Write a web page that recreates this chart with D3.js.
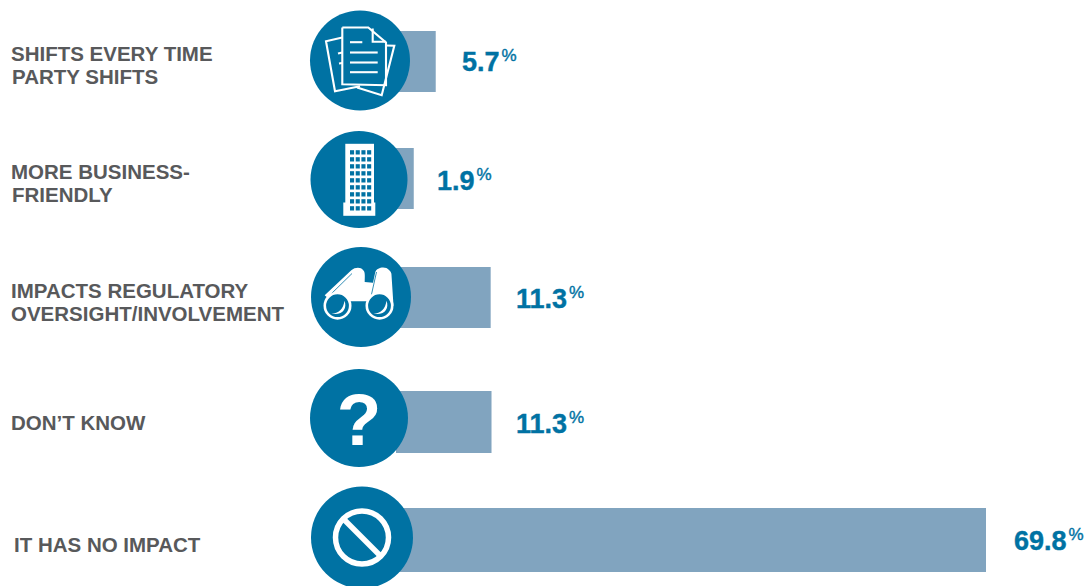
<!DOCTYPE html>
<html>
<head>
<meta charset="utf-8">
<script src="https://cdn.jsdelivr.net/npm/d3@7"></script>
<style>
  html, body { margin: 0; padding: 0; background: #fff; overflow: hidden; }
  text { font-family: "Liberation Sans", Arial, sans-serif; font-weight: bold; }
</style>
</head>
<body>
<svg id="chart" width="1089" height="586"></svg>
<script>

const categories = ["shifts", "business", "oversight", "unknown", "noImpact"];
const categoryLines = [
  ["SHIFTS EVERY TIME", "PARTY SHIFTS"],
  ["MORE BUSINESS-", "FRIENDLY"],
  ["IMPACTS REGULATORY", "OVERSIGHT/INVOLVEMENT"],
  ["DON\u2019T KNOW"],
  ["IT HAS NO IMPACT"]
];
const valueLabels = [5.7, 1.9, 11.3, 11.3, 69.8];
// the bars in the picture aren't quite in proportion to the printed figures,
// so these are read off the bar lengths
const barValues = [4.7, 2.1, 11.2, 11.3, 69.8];

const blue = "#0072a3";
const barBlue = "#81a4bf";
const grey = "#58595b";

const svg = d3.select("#chart");

// rows are not evenly spaced in the original, so ordinal scales hold the measured spots
const xScale = d3.scaleLinear().domain([0, 69.8]).range([396, 986]);
const barY = d3.scaleOrdinal().domain(categories).range([31, 148, 267, 391, 508]);
const barH = d3.scaleOrdinal().domain(categories).range([61, 61, 61, 62, 64]);
const circleX = d3.scaleOrdinal().domain(categories).range([360, 359, 361, 359, 362]);
const circleY = d3.scaleOrdinal().domain(categories).range([60.5, 179.5, 297, 418, 537.5]);
const circleR = d3.scaleOrdinal().domain(categories).range([50, 48.5, 50, 49, 51]);
const labelX = d3.scaleOrdinal().domain(categories).range([11, 11, 11, 11, 14]);
const labelY = d3.scaleOrdinal().domain(categories).range([61, 179, 298, 430, 552]);
const valueX = d3.scaleOrdinal().domain(categories).range([462, 437, 516, 516, 1014]);
const valueY = d3.scaleOrdinal().domain(categories).range([71, 190, 308, 433, 550]);

const rows = svg.selectAll("g.row")
  .data(categories)
  .join("g")
    .attr("class", "row");

rows.append("rect")
    .attr("x", xScale(0))
    .attr("y", d => barY(d))
    .attr("width", (d, i) => xScale(barValues[i]) - xScale(0))
    .attr("height", d => barH(d))
    .attr("fill", barBlue);

rows.append("circle")
    .attr("cx", d => circleX(d))
    .attr("cy", d => circleY(d))
    .attr("r", d => circleR(d))
    .attr("fill", blue);

// category labels
rows.each(function (d, i) {
  const lines = categoryLines[i];
  const text = d3.select(this).append("text")
      .attr("fill", grey)
      .attr("font-size", 20.5);
  lines.forEach((line, k) => {
    text.append("tspan")
        .attr("x", labelX(d) + (k === 1 && i < 2 ? 1 : 0))
        .attr("y", labelY(d) + k * 23)
        .text(line);
  });
});

// value labels with the small raised % sign
const valueText = rows.append("text")
    .attr("x", d => valueX(d))
    .attr("y", d => valueY(d))
    .attr("fill", blue)
    .attr("stroke", blue)
    .attr("stroke-width", 0.4)
    .attr("font-size", 27);
valueText.append("tspan").text((d, i) => valueLabels[i].toFixed(1));
valueText.append("tspan")
    .attr("font-size", 17)
    .attr("font-weight", "normal")
    .attr("dx", 2)
    .attr("dy", -10)
    .text("%");

const icon = name => svg.append("g")
  .attr("transform", `translate(${circleX(name)},${circleY(name)})`);

const line = d3.line();

// documents
const docs = icon("shifts")
  .attr("fill", "none")
  .attr("stroke", "#fff")
  .attr("stroke-width", 2.1);
[
  [[-17.7, -23], [-34, -19.3], [-25, 30.7], [0, 25.7]],
  [[26, -15], [34.3, -14.7], [21.7, 34.7], [-3, 27]],
  [[-22, -7], [-17.7, -8]],
  [[-21, 3], [-17.7, 2.5]],
  [[-17.7, -33], [8.3, -33], [26, -18], [26, 24.7], [-17.7, 23.7], [-17.7, -33]],
  [[12.7, -32], [12.7, -18.7], [26, -18.7]],
  [[-10, -18.3], [2.3, -18.3]],
  [[-10, -8], [17.7, -8]],
  [[-10, 2], [17.7, 2]],
  [[-10, 11.7], [17.7, 11.7]]
].forEach(p => docs.append("path").attr("d", line(p)));

// office building
const building = icon("business");
building.append("rect").attr("x", -13.7).attr("y", -35.7).attr("width", 28.7).attr("height", 60).attr("fill", "#fff");
building.append("rect").attr("x", -15.7).attr("y", 23).attr("width", 32).attr("height", 13.3).attr("fill", "#fff");
d3.range(9).forEach(r => d3.range(4).forEach(c => {
  building.append("rect")
      .attr("x", -9 + c * 5.7)
      .attr("y", -29.3 + r * 7)
      .attr("width", 4.1)
      .attr("height", 4.3)
      .attr("fill", blue);
}));

// binoculars
const bino = icon("oversight");
bino.append("path")
    .attr("d", "M-36.3,-1.7 L-9.7,-26.7 C-6,-30 0,-30 2,-27 C4,-25 4,-23 3.7,-15 L12,-14.3 L14.3,-25 C16,-30 25,-31 28,-27 C30,-25 30.5,-24 30.5,-22 L32.5,8.7 L18,9 L6,4.3 L-10,4.3 L-24,9 Z")
    .attr("fill", "#fff");
bino.append("path")
    .attr("d", "M-33,0 L-9,-23.5 M10.3,-1.7 L15.5,-25")
    .attr("stroke", blue)
    .attr("stroke-width", 0.8)
    .attr("fill", "none");
[-23.5, 18.5].forEach(x => {
  bino.append("circle")
      .attr("cx", x).attr("cy", 8.7).attr("r", 12.7)
      .attr("fill", blue)
      .attr("stroke", "#fff")
      .attr("stroke-width", 2.6);
  bino.append("path")
      .attr("transform", `translate(${x},8.7)`)
      .attr("d", "M-6,8 C1,8 6,3 7,-5 C10,3 5,10 -6,8 Z")
      .attr("fill", "#fff");
});

// question mark
icon("unknown").append("text")
    .attr("x", 0)
    .attr("y", 27)
    .attr("text-anchor", "middle")
    .attr("fill", "#fff")
    .attr("font-size", 73)
    .text("?");

// no entry sign
const noSign = icon("noImpact")
  .attr("fill", "none")
  .attr("stroke", "#fff")
  .attr("stroke-width", 5.5);
noSign.append("circle").attr("cx", 0).attr("cy", 0).attr("r", 26.5);
noSign.append("path").attr("d", line([[-18.5, -18.5], [18.5, 18.5]]));

</script>
</body>
</html>
